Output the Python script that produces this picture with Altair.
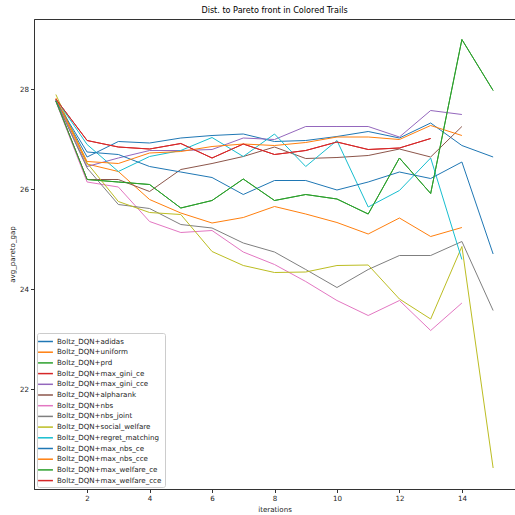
import altair as alt
import pandas as pd

iterations = list(range(1, 16))

series_names = [
    "Boltz_DQN+adidas",
    "Boltz_DQN+uniform",
    "Boltz_DQN+prd",
    "Boltz_DQN+max_gini_ce",
    "Boltz_DQN+max_gini_cce",
    "Boltz_DQN+alpharank",
    "Boltz_DQN+nbs",
    "Boltz_DQN+nbs_joint",
    "Boltz_DQN+social_welfare",
    "Boltz_DQN+regret_matching",
    "Boltz_DQN+max_nbs_ce",
    "Boltz_DQN+max_nbs_cce",
    "Boltz_DQN+max_welfare_ce",
    "Boltz_DQN+max_welfare_cce",
]

colors = ["#1f77b4", "#ff7f0e", "#2ca02c", "#d62728", "#9467bd", "#8c564b",
          "#e377c2", "#7f7f7f", "#bcbd22", "#17becf",
          "#1f77b4", "#ff7f0e", "#2ca02c", "#d62728"]

adidas = [27.78, 26.64, 26.95, 26.92, 27.02, 27.07, 27.10, 26.95, 26.97, 27.05, 27.15, 27.02, 27.32, 26.87, 26.64]
uniform = [27.80, 26.50, 26.35, 25.79, 25.52, 25.32, 25.43, 25.65, 25.50, 25.33, 25.10, 25.42, 25.05, 25.23, None]
prd = [27.76, 26.19, 26.14, 26.09, 25.62, 25.77, 26.20, 25.77, 25.89, 25.80, 25.50, 26.62, 25.91, 28.99, 27.97]
max_gini_ce = [27.80, 26.97, 26.84, 26.80, 26.91, 26.62, 26.90, 26.69, 26.77, 26.94, 26.79, 26.82, 27.01, None, None]
max_gini_cce = [27.77, 26.45, 26.62, 26.77, 26.77, 26.79, 27.02, 26.99, 27.25, 27.25, 27.25, 27.04, 27.57, 27.49, None]
alpharank = [27.77, 26.19, 26.19, 25.95, 26.39, 26.51, 26.65, 26.84, 26.61, 26.63, 26.67, 26.80, 26.64, 27.25, None]
nbs = [27.75, 26.14, 26.04, 25.35, 25.13, 25.17, 24.74, 24.49, 24.15, 23.77, 23.47, 23.77, 23.17, 23.72, None]
nbs_joint = [27.76, 26.42, 25.69, 25.61, 25.29, 25.22, 24.92, 24.74, 24.39, 24.03, 24.39, 24.67, 24.67, 24.95, 23.57]
social_welfare = [27.89, 26.52, 25.75, 25.53, 25.49, 24.75, 24.47, 24.33, 24.34, 24.47, 24.48, 23.80, 23.40, 24.85, 20.42]
regret_matching = [27.80, 26.89, 26.35, 26.65, 26.77, 27.03, 26.65, 27.10, 26.45, 26.97, 25.64, 25.97, 26.62, 24.59, None]
max_nbs_ce = [27.76, 26.74, 26.69, 26.45, 26.34, 26.23, 25.89, 26.17, 26.17, 25.98, 26.14, 26.34, 26.21, 26.54, 24.70]
max_nbs_cce = [27.82, 26.55, 26.51, 26.72, 26.75, 26.85, 26.90, 26.87, 26.93, 27.04, 27.04, 26.99, 27.27, 27.07, None]
max_welfare_ce = [27.76, 26.19, 26.14, 26.09, 25.62, 25.77, 26.20, 25.77, 25.89, 25.80, 25.50, 26.62, 25.91, 28.99, 27.97]
max_welfare_cce = [27.80, 26.97, 26.84, 26.80, 26.91, 26.62, 26.90, 26.69, 26.77, 26.94, 26.79, 26.82, 27.01, None, None]

all_values = [adidas, uniform, prd, max_gini_ce, max_gini_cce, alpharank, nbs, nbs_joint,
              social_welfare, regret_matching, max_nbs_ce, max_nbs_cce, max_welfare_ce, max_welfare_cce]

rows = []
for k, (name, vals) in enumerate(zip(series_names, all_values)):
    for it, v in zip(iterations, vals):
        if v is not None:
            rows.append({"series": name, "iterations": it, "avg_pareto_gap": v, "order": k})
df = pd.DataFrame(rows)

FONT = "DejaVu Sans"
FS = 7.1

chart = alt.Chart(df).mark_line(strokeWidth=1, clip=True).encode(
    x=alt.X("iterations:Q",
            scale=alt.Scale(domain=[0.3, 15.7], nice=False, zero=False),
            axis=alt.Axis(values=[2, 4, 6, 8, 10, 12, 14], title="iterations", grid=False)),
    y=alt.Y("avg_pareto_gap:Q",
            scale=alt.Scale(domain=[20.0, 29.4], nice=False, zero=False),
            axis=alt.Axis(values=[22, 24, 26, 28], title="avg_pareto_gap", grid=False)),
    color=alt.Color("series:N",
                    scale=alt.Scale(domain=series_names, range=colors),
                    legend=alt.Legend(title=None, orient="none", legendX=3, legendY=314,
                                      symbolType="M-1.65,0L1.65,0", symbolSize=81,
                                      symbolStrokeWidth=1.5,
                                      labelFontSize=FS, labelFont=FONT, labelColor="#222",
                                      padding=3, rowPadding=1.7, labelOffset=6,
                                      strokeColor="#cccccc", fillColor="white", cornerRadius=2)),
    detail="order:O",
).properties(
    width=481,
    height=470,
    title=alt.TitleParams("Dist. to Pareto front in Colored Trails", fontSize=8.1, font=FONT,
                          fontWeight="normal", color="black", offset=4),
    padding={"left": 34, "top": 19, "right": 0, "bottom": 26},
    autosize="none",
).configure_view(
    stroke="#333333", strokeWidth=1
).configure_axis(
    labelFont=FONT, titleFont=FONT, labelFontSize=FS, titleFontSize=FS,
    titleFontWeight="normal", labelColor="#222", titleColor="#222",
    domainColor="#333333", tickColor="#333333", tickSize=3.5, labelPadding=2,
)

chart.save("out.html", embed_options={"renderer": "svg", "actions": False})
